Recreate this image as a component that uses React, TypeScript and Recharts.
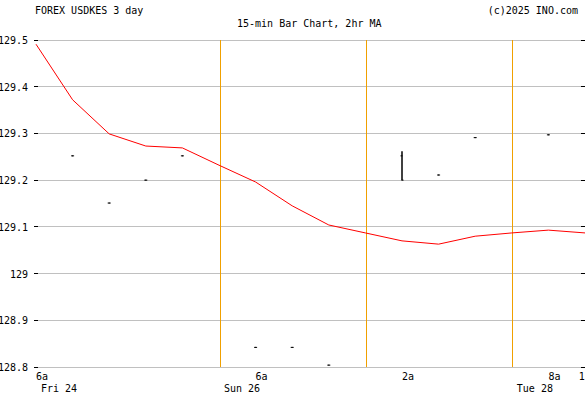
import {
  ComposedChart,
  Line,
  Scatter,
  ErrorBar,
  XAxis,
  YAxis,
  CartesianGrid,
  ReferenceLine,
} from "recharts";

// x is measured in 6-hour slots starting at Fri 24, 6a
const maSlots = [0, 1, 2, 3, 4, 5, 6, 7, 8, 9, 10, 11, 12, 13, 14, 15];
const maValues = [
  129.491, 129.372, 129.299, 129.273, 129.269, 129.232, 129.196, 129.145,
  129.104, 129.087, 129.07, 129.063, 129.08, 129.087, 129.093, 129.087,
];

const barSlots = [1, 2, 3, 4, 6, 7, 8, 10, 11, 12, 14];
const barOpen = [129.252, 129.151, 129.2, 129.252, 128.842, 128.842, 128.804, 129.252, 129.211, 129.291, 129.297];
const barHigh = [129.252, 129.151, 129.2, 129.252, 128.842, 128.842, 128.804, 129.262, 129.211, 129.291, 129.297];
const barLow = [129.252, 129.151, 129.2, 129.252, 128.842, 128.842, 128.804, 129.2, 129.211, 129.291, 129.297];
const barClose = [129.252, 129.151, 129.2, 129.252, 128.842, 128.842, 128.804, 129.2, 129.211, 129.291, 129.297];

const dayBreaks = [5.04, 9.03, 13.02];
const hourTicks = [0, 6, 10, 14, 14.83];
const hourLabels = ["6a", "6a", "2a", "8a", "1p"];
const dayTicks = [0, 5, 13];
const dayLabels = ["Fri 24", "Sun 26", "Tue 28"];
const yTicks = [128.8, 128.9, 129, 129.1, 129.2, 129.3, 129.4, 129.5];

const maData = maSlots.map((slot, i) => ({ slot, ma: maValues[i] }));
const barData = barSlots.map((slot, i) => ({
  slot,
  open: barOpen[i],
  high: barHigh[i],
  low: barLow[i],
  close: barClose[i],
}));

const W = 585;
const H = 394;
const FONT = "'DejaVu Sans Mono', 'Liberation Mono', monospace";
const PLOT_RIGHT = W;

const YTick = ({ x, y, payload }: any) => (
  <g shapeRendering="crispEdges">
    <line x1={x} x2={x + 4} y1={y} y2={y} stroke="#000" />
    <line x1={PLOT_RIGHT - 4} x2={PLOT_RIGHT} y1={y} y2={y} stroke="#000" />
    <text x={x - 6} y={y + 4} textAnchor="end" fontFamily={FONT} fontSize={10} fill="#000">
      {String(Number(payload.value.toFixed(1)))}
    </text>
  </g>
);

const allXTicks = Array.from(new Set([...hourTicks, ...dayTicks])).sort((a, b) => a - b);

const XTick = ({ x, y, payload }: any) => {
  const hi = hourTicks.indexOf(payload.value);
  const di = dayTicks.indexOf(payload.value);
  return (
    <g>
      {hi >= 0 && (
        <text x={x} y={y + 11} fontFamily={FONT} fontSize={10} fill="#000">
          {hourLabels[hi]}
        </text>
      )}
      {di >= 0 && (
        <text x={x + 5} y={y + 22.5} fontFamily={FONT} fontSize={10} fill="#000">
          {dayLabels[di]}
        </text>
      )}
    </g>
  );
};

const OpenTick = ({ cx, cy }: any) => (
  <line x1={cx - 1.5} x2={cx + 0.5} y1={cy} y2={cy} stroke="#000" />
);
const CloseTick = ({ cx, cy }: any) => (
  <line x1={cx - 0.5} x2={cx + 1.5} y1={cy} y2={cy} stroke="#000" />
);

export default function App() {
  return (
    <div style={{ position: "absolute", left: 0, top: 0, width: W, height: H, background: "#fff" }}>
      <ComposedChart
        width={W}
        height={H}
        margin={{ top: 40, right: 0, bottom: 0, left: 0 }}
      >
        <CartesianGrid vertical={false} stroke="#c0c0c0" shapeRendering="crispEdges" />
        <XAxis
          dataKey="slot"
          type="number"
          domain={[0, 15]}
          ticks={allXTicks}
          interval={0}
          height={27}
          axisLine={false}
          tickLine={false}
          tickSize={0}
          tick={<XTick />}
          allowDuplicatedCategory={false}
        />
        <YAxis
          type="number"
          domain={[128.8, 129.5]}
          ticks={yTicks}
          interval={0}
          width={36}
          axisLine={false}
          tickLine={false}
          tickSize={0}
          tick={<YTick />}
        />
        {dayBreaks.map((d) => (
          <ReferenceLine
            key={d}
            x={d}
            stroke="#f0a000"
            strokeWidth={1}
            shapeRendering="crispEdges"
          />
        ))}
        <Line
          data={maData}
          dataKey="ma"
          type="linear"
          stroke="#ff0000"
          strokeWidth={1}
          dot={false}
          isAnimationActive={false}
        />
        <Scatter data={barData} dataKey="open" shape={<OpenTick />} isAnimationActive={false} />
        <Scatter data={barData} dataKey="close" shape={<CloseTick />} isAnimationActive={false}>
          <ErrorBar
            dataKey={(d: any) => [d.close - d.low, d.high - d.close]}
            direction="y"
            width={0}
            stroke="#000"
            strokeWidth={1.5}
          />
        </Scatter>
      </ComposedChart>
      <svg
        width={W}
        height={40}
        style={{ position: "absolute", left: 0, top: 0, pointerEvents: "none" }}
      >
        <text x={35} y={14} fontFamily={FONT} fontSize={10} fill="#000">
          FOREX USDKES 3 day
        </text>
        <text x={578} y={14} textAnchor="end" fontFamily={FONT} fontSize={10} fill="#000">
          (c)2025 INO.com
        </text>
        <text x={237} y={27} fontFamily={FONT} fontSize={10} fill="#000">
          15-min Bar Chart, 2hr MA
        </text>
      </svg>
    </div>
  );
}
